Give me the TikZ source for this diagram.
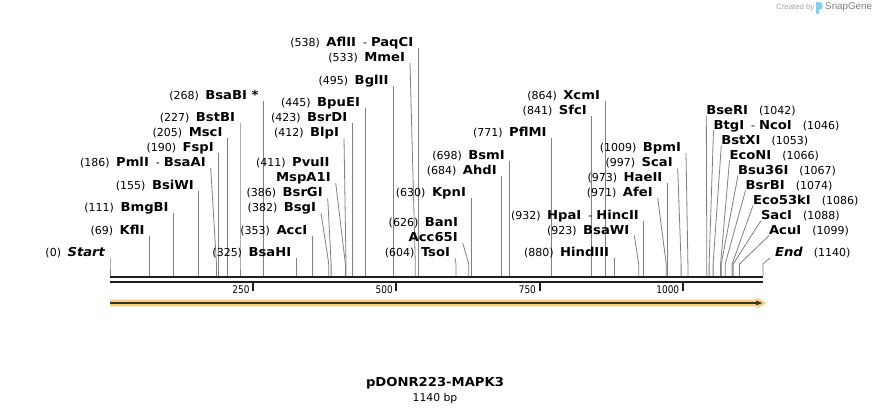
\documentclass[tikz,border=0pt]{standalone}
\usepackage{fontspec}
\setmainfont{DejaVu Sans}
\newfontfamily\enzfont[FakeStretch=1.07]{DejaVu Sans}
\newfontfamily\axfont[FakeStretch=0.85]{DejaVu Sans}
\newfontfamily\snapfont{Liberation Sans}
\newcommand\enzN[1]{{\enzfont\bfseries\fontsize{12.3}{14}\selectfont #1}}
\newcommand\enzI[1]{{\enzfont\bfseries\itshape\fontsize{12.3}{14}\selectfont #1}}
\newcommand\enzP[1]{{\fontsize{11}{12}\selectfont (#1)}}
\newcommand\enzD{{\fontsize{11}{12}\selectfont -}}
\definecolor{orf}{RGB}{250,204,118}
\definecolor{snapblue}{RGB}{130,205,240}
\tikzset{
  lbl/.style={inner sep=0pt, outer sep=0pt, text=black},
  cut/.style={draw=black!50, line width=0.8pt},
  seqline/.style={draw=black!88, line width=2.3pt},
  tickbar/.style={draw=black!88, line width=2pt},
  axnum/.style={inner sep=0pt, anchor=base east, font=\axfont\fontsize{10.5}{12}\selectfont},
}
\begin{document}
\begin{tikzpicture}[x=1pt,y=-1pt]
\useasboundingbox (0,0) rectangle (874,415);
\fill[white] (0,0) rectangle (874,415);

% header
\node[inner sep=0pt, anchor=west, text=black!35] (cb) at (776,7.5) {\snapfont\fontsize{7.8}{9}\selectfont Created by};
\fill[snapblue] (816,2) rectangle (818.6,14);
\fill[snapblue] (818.6,2) .. controls (824,2) and (824,10) .. (818.6,10) -- cycle;
\node[inner sep=0pt, anchor=west, text=black!50] (sg) at (825,7.5) {\snapfont\fontsize{9.8}{11}\selectfont SnapGene};

% sequence
\draw[seqline] (110,277.2) -- (763.3,277.2);
\draw[seqline] (110,281.7) -- (763.3,281.7);

% left-anchored labels
\foreach \id/\ls/\k/\sx/\txt in {
 start/110/0/110/{\enzP{0}\hspace{6.5pt}\enzI{Start}},
 kfl/149.5/3/149.5/{\enzP{69}\hspace{6.5pt}\enzN{KflI}},
 bmgb/173.6/6/173.6/{\enzP{111}\hspace{6.5pt}\enzN{BmgBI}},
 bsiw/198.8/9/198.8/{\enzP{155}\hspace{6.5pt}\enzN{BsiWI}},
 pml/210.7/12/216.5/{\enzP{186}\hspace{6.5pt}\enzN{PmlI}\hspace{7pt}\enzD\hspace{4pt}\enzN{BsaAI}},
 fsp/218.8/14/218.8/{\enzP{190}\hspace{6.5pt}\enzN{FspI}},
 msc/227.4/16/227.4/{\enzP{205}\hspace{6.5pt}\enzN{MscI}},
 bstb/240.0/18/240.0/{\enzP{227}\hspace{6.5pt}\enzN{BstBI}},
 bsab/263.5/21/263.5/{\enzP{268}\hspace{6.5pt}\enzN{BsaBI *}},
 bsah/296.2/0/296.2/{\enzP{325}\hspace{6.5pt}\enzN{BsaHI}},
 acc/312.2/3/312.2/{\enzP{353}\hspace{6.5pt}\enzN{AccI}},
 bsg/321/6/328.8/{\enzP{382}\hspace{6.5pt}\enzN{BsgI}},
 bsrg/327.7/8/331.1/{\enzP{386}\hspace{6.5pt}\enzN{BsrGI}},
 mspa/335.7/10/345.4/{\enzN{MspA1I}},
 blp/344/16/346.0/{\enzP{412}\hspace{6.5pt}\enzN{BlpI}},
 bsrd/352.3/18/352.3/{\enzP{423}\hspace{6.5pt}\enzN{BsrDI}},
 bpue/364.9/20/364.9/{\enzP{445}\hspace{6.5pt}\enzN{BpuEI}},
 bgl/393.5/23/393.5/{\enzP{495}\hspace{6.5pt}\enzN{BglII}},
 mme/410/26/415.3/{\enzP{533}\hspace{6.5pt}\enzN{MmeI}},
 afl/418.2/28/418.2/{\enzP{538}\hspace{6.5pt}\enzN{AflII}\hspace{7pt}\enzD\hspace{4pt}\enzN{PaqCI}},
 tso/455/0/456.0/{\enzP{604}\hspace{6.5pt}\enzN{TsoI}},
 accsf/462.7/2/468.8/{\enzN{Acc65I}},
 kpn/470.9/8/470.9/{\enzP{630}\hspace{6.5pt}\enzN{KpnI}},
 ahd/501.8/11/501.8/{\enzP{684}\hspace{6.5pt}\enzN{AhdI}},
 bsm/509.8/13/509.8/{\enzP{698}\hspace{6.5pt}\enzN{BsmI}},
 pflm/551.6/16/551.6/{\enzP{771}\hspace{6.5pt}\enzN{PflMI}},
 sfc/591.7/19/591.7/{\enzP{841}\hspace{6.5pt}\enzN{SfcI}},
 xcm/604.9/21/604.9/{\enzP{864}\hspace{6.5pt}\enzN{XcmI}},
 hind/614.1/0/614.1/{\enzP{880}\hspace{6.5pt}\enzN{HindIII}},
 bsaw/634.3/3/638.7/{\enzP{923}\hspace{6.5pt}\enzN{BsaWI}},
 hpa/643.8/5/643.8/{\enzP{932}\hspace{6.5pt}\enzN{HpaI}\hspace{7pt}\enzD\hspace{4pt}\enzN{HincII}},
 afe/657.7/8/666.2/{\enzP{971}\hspace{6.5pt}\enzN{AfeI}},
 hae/667.3/10/667.3/{\enzP{973}\hspace{6.5pt}\enzN{HaeII}},
 sca/677.7/12/681.1/{\enzP{997}\hspace{6.5pt}\enzN{ScaI}},
 bpm/686/14/687.9/{\enzP{1009}\hspace{6.5pt}\enzN{BpmI}}
}{
 \node[lbl, anchor=base east] (L\id) at ({\ls-5},{252-7.5*\k+4.5}) {\txt};
 \coordinate (S\id) at (\sx,276);
 \draw[cut] ([shift={(5,1.5)}]L\id.base east) -- (\sx,264) -- (S\id);
}

% labels sharing a line
\node[lbl, anchor=base east] (Lpvu) at (329.5,{252-7.5*12+4.5}) {\enzP{411}\hspace{6.5pt}\enzN{PvuII}};
\node[lbl, anchor=base east] (Lban) at (458,{252-7.5*4+4.5}) {\enzP{626}\hspace{6.5pt}\enzN{BanI}};

% right-anchored labels
\foreach \id/\ls/\k/\sx/\txt in {
 bser/706.3/19/706.8/{\enzN{BseRI}\hspace{11pt}\enzP{1042}},
 btg/713.5/17/709.1/{\enzN{BtgI}\hspace{7pt}\enzD\hspace{4pt}\enzN{NcoI}\hspace{11pt}\enzP{1046}},
 bstx/721.3/15/713.1/{\enzN{BstXI}\hspace{11pt}\enzP{1053}},
 econ/729.5/13/720.6/{\enzN{EcoNI}\hspace{11pt}\enzP{1066}},
 bsu/738/11/721.2/{\enzN{Bsu36I}\hspace{11pt}\enzP{1067}},
 bsrb/745.5/9/725.2/{\enzN{BsrBI}\hspace{11pt}\enzP{1074}},
 ecof/753/7/732.1/{\enzN{Eco53kI}\hspace{11pt}\enzP{1086}},
 sac/761/5/733.2/{\enzN{SacI}\hspace{11pt}\enzP{1088}},
 acu/769/3/739.5/{\enzN{AcuI}\hspace{11pt}\enzP{1099}}
}{
 \node[lbl, anchor=base west] (R\id) at (\ls,{252-7.5*\k+4.5}) {\txt};
 \coordinate (S\id) at (\sx,276);
 \draw[cut] ([shift={(0,1.5)}]R\id.base west) -- (\sx,264) -- (S\id);
}
\node[lbl, anchor=base west] (Rend) at (775,256.5) {\enzI{End}\hspace{11pt}\enzP{1140}};
\coordinate (Send) at (763,276);
\draw[cut] ([shift={(-5,1.5)}]Rend.base west) -- (763,264) -- (Send);

% ruler
\foreach \v/\tx in {250/253.2, 500/396.4, 750/539.6, 1000/682.8}{
  \draw[tickbar] (\tx,282.5) -- (\tx,290.5);
  \node[axnum] (ax\v) at ({\tx-3.5},293) {\v};
}

% orf arrow
\fill[orf] (110,299.6) -- (757,299.6) -- (757,297.5) -- (766,303) -- (757,308.5) -- (757,306.4) -- (110,306.4) -- cycle;
\draw[draw=black!80, line width=1.2pt] (110,303) -- (757,303);
\fill[black!80] (756,300.6) -- (762.3,303) -- (756,305.4) -- cycle;

% title
\node[inner sep=0pt] (title) at (435,383) {\enzN{pDONR223-MAPK3}};
\node[inner sep=0pt] (size) at (435,398.5) {\fontsize{10.8}{12}\selectfont 1140 bp};
\end{tikzpicture}
\end{document}
